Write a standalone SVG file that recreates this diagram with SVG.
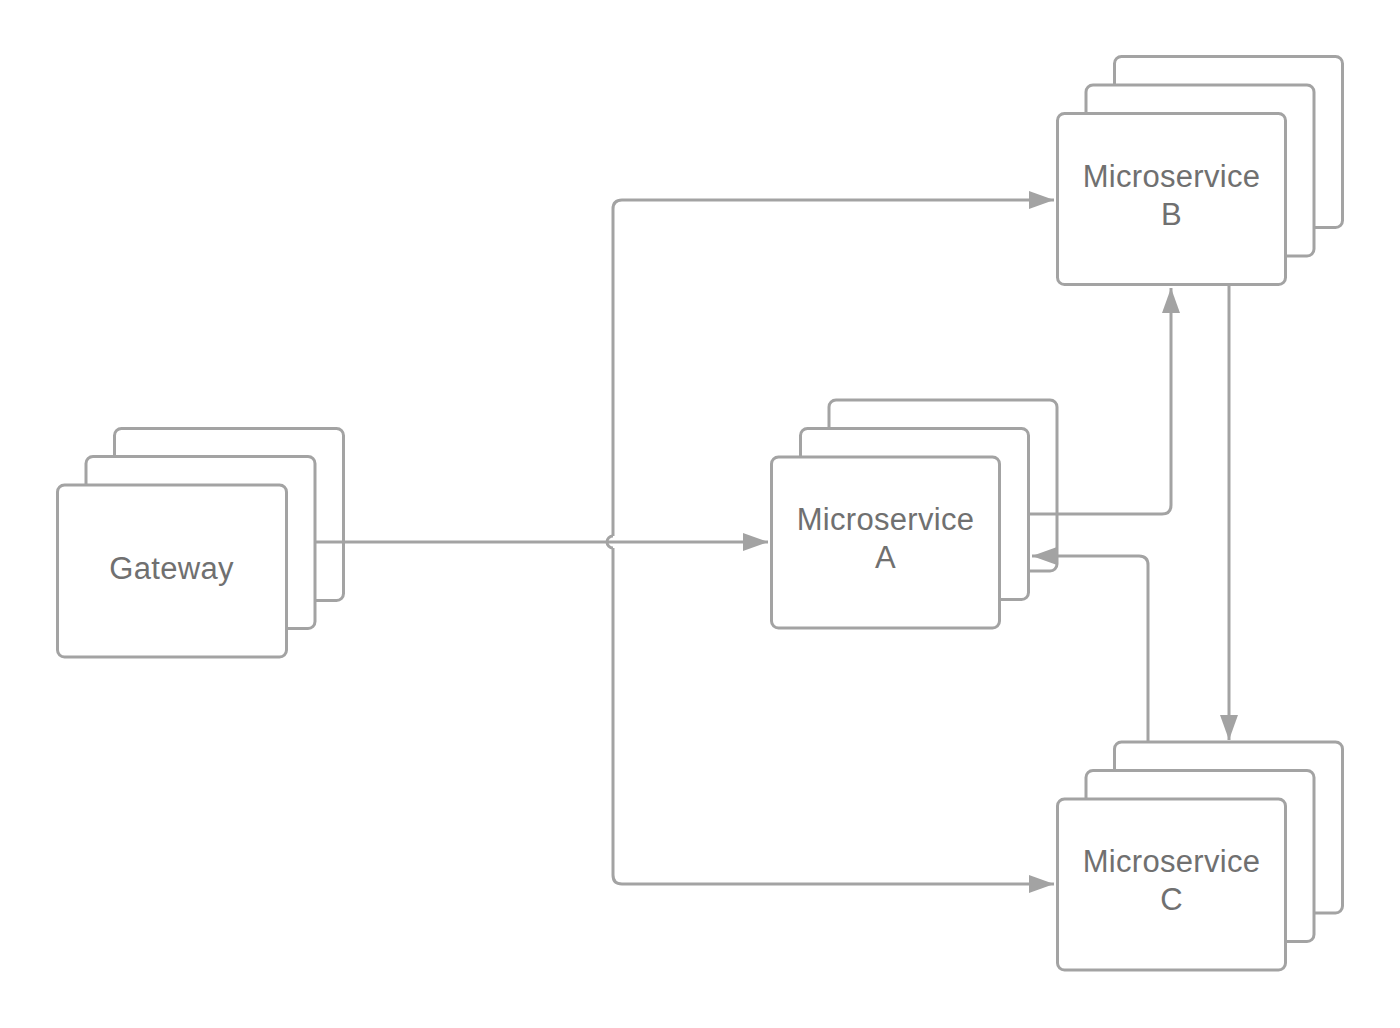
<svg xmlns="http://www.w3.org/2000/svg" width="1400" height="1028" viewBox="0 0 1400 1028">
<style>
.card{fill:#ffffff;stroke:#a3a3a3;stroke-width:3}
.lbl{font-family:"Liberation Sans",Arial,sans-serif;font-size:31px;fill:#707070;text-anchor:middle;letter-spacing:0.3px}
.conn{fill:none;stroke:#a3a3a3;stroke-width:3}
</style>
<defs>
<marker id="arr" markerUnits="userSpaceOnUse" markerWidth="26" markerHeight="18" refX="25" refY="9" orient="auto">
<path d="M0,0 L25,9 L0,18 z" fill="#a3a3a3"/>
</marker>
</defs>
<rect width="1400" height="1028" fill="#ffffff"/>
<g id="gateway">
<rect class="card" x="114.5" y="428.5" width="229" height="172" rx="7"/>
<rect class="card" x="86" y="456.5" width="229" height="172" rx="7"/>
<rect class="card" x="57.5" y="485" width="229" height="172" rx="7"/>
<text class="lbl" x="171.5" y="579">Gateway</text>
</g>
<g id="microservice-a">
<rect class="card" x="829" y="400" width="228" height="171" rx="7"/>
<rect class="card" x="800.5" y="428.5" width="228" height="171" rx="7"/>
<rect class="card" x="771.5" y="457" width="228" height="171" rx="7"/>
<text class="lbl" x="885.5" y="530">Microservice</text>
<text class="lbl" x="885.5" y="568">A</text>
</g>
<g id="microservice-b">
<rect class="card" x="1114.5" y="56.5" width="228" height="171" rx="7"/>
<rect class="card" x="1086" y="85" width="228" height="171" rx="7"/>
<rect class="card" x="1057.5" y="113.5" width="228" height="171" rx="7"/>
<text class="lbl" x="1171.5" y="187">Microservice</text>
<text class="lbl" x="1171.5" y="224.5">B</text>
</g>
<g id="microservice-c">
<rect class="card" x="1114.5" y="742" width="228" height="171" rx="7"/>
<rect class="card" x="1086" y="770.5" width="228" height="171" rx="7"/>
<rect class="card" x="1057.5" y="799" width="228" height="171" rx="7"/>
<text class="lbl" x="1171.5" y="872">Microservice</text>
<text class="lbl" x="1171.5" y="910">C</text>
</g>
<g id="connectors">
<path class="conn" d="M315,542 H768" marker-end="url(#arr)"/>
<path class="conn" d="M613,536 V209 Q613,200 622,200 H1054" marker-end="url(#arr)"/>
<path class="conn" d="M613,536 A6,6 0 0 0 613,548"/>
<path class="conn" d="M613,548 V875 Q613,884 622,884 H1054" marker-end="url(#arr)"/>
<path class="conn" d="M1030,514 H1162 Q1171,514 1171,505 V288" marker-end="url(#arr)"/>
<path class="conn" d="M1229,286 V740" marker-end="url(#arr)"/>
<path class="conn" d="M1148,742 V565 Q1148,556 1139,556 H1032" marker-end="url(#arr)"/>
</g>
</svg>
